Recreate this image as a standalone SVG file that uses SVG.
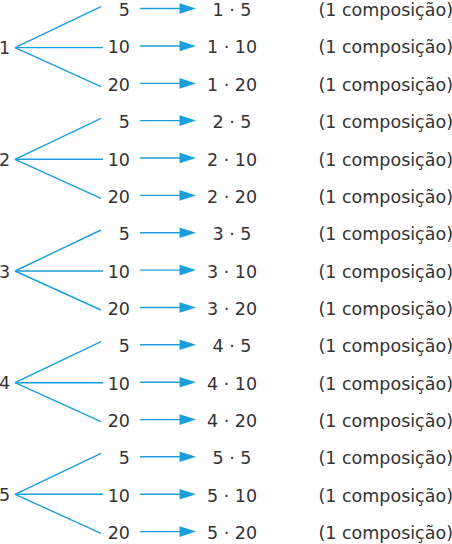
<svg xmlns="http://www.w3.org/2000/svg" width="452" height="544" viewBox="0 0 452 544">
<style>
text{font-family:"DejaVu Sans","Open Sans",sans-serif;font-size:17.5px;fill:#333}
.n{text-anchor:end}
.p{text-anchor:middle}
.c{text-anchor:end}
.ln{stroke:#1a9fdc;stroke-width:1.4;fill:none}
.ah{fill:#1a9fdc}
</style>
<defs>
<g id="arr"><line class="ln" x1="140" y1="0" x2="181" y2="0"/><polygon class="ah" points="179.5,-5.3 196,0 179.5,5.3"/></g>
<g id="tree"><line class="ln" x1="15" y1="0" x2="101" y2="-41"/><line class="ln" x1="15" y1="0" x2="103" y2="0"/><line class="ln" x1="15" y1="0" x2="101" y2="39"/></g>
</defs>
<g id="connectors">
<use href="#tree" y="47.6"/>
<use href="#arr" y="8.5"/><use href="#arr" y="46"/><use href="#arr" y="83.4"/>
<use href="#tree" y="159.3"/>
<use href="#arr" y="120.6"/><use href="#arr" y="158"/><use href="#arr" y="195.4"/>
<use href="#tree" y="271"/>
<use href="#arr" y="232.7"/><use href="#arr" y="270.1"/><use href="#arr" y="307.5"/>
<use href="#tree" y="382.7"/>
<use href="#arr" y="344.8"/><use href="#arr" y="382.2"/><use href="#arr" y="419.6"/>
<use href="#tree" y="494.3"/>
<use href="#arr" y="456.8"/><use href="#arr" y="494.2"/><use href="#arr" y="531.6"/>
</g>
<g id="node1">
<text x="-1" y="54">1</text>
<text class="n" x="130" y="16">5</text><text class="n" x="130" y="53.4">10</text><text class="n" x="130" y="90.8">20</text>
<text class="p" x="232" y="16">1 · 5</text><text class="p" x="232" y="53.4">1 · 10</text><text class="p" x="232" y="90.8">1 · 20</text>
<text class="c" x="453" y="16">(1 composição)</text><text class="c" x="453" y="53.4">(1 composição)</text><text class="c" x="453" y="90.8">(1 composição)</text>
</g>
<g id="node2">
<text x="-1" y="166">2</text>
<text class="n" x="130" y="128.1">5</text><text class="n" x="130" y="165.5">10</text><text class="n" x="130" y="202.9">20</text>
<text class="p" x="232" y="128.1">2 · 5</text><text class="p" x="232" y="165.5">2 · 10</text><text class="p" x="232" y="202.9">2 · 20</text>
<text class="c" x="453" y="128.1">(1 composição)</text><text class="c" x="453" y="165.5">(1 composição)</text><text class="c" x="453" y="202.9">(1 composição)</text>
</g>
<g id="node3">
<text x="-1" y="277.7">3</text>
<text class="n" x="130" y="240.2">5</text><text class="n" x="130" y="277.6">10</text><text class="n" x="130" y="315">20</text>
<text class="p" x="232" y="240.2">3 · 5</text><text class="p" x="232" y="277.6">3 · 10</text><text class="p" x="232" y="315">3 · 20</text>
<text class="c" x="453" y="240.2">(1 composição)</text><text class="c" x="453" y="277.6">(1 composição)</text><text class="c" x="453" y="315">(1 composição)</text>
</g>
<g id="node4">
<text x="-1" y="389.4">4</text>
<text class="n" x="130" y="352.3">5</text><text class="n" x="130" y="389.7">10</text><text class="n" x="130" y="427.1">20</text>
<text class="p" x="232" y="352.3">4 · 5</text><text class="p" x="232" y="389.7">4 · 10</text><text class="p" x="232" y="427.1">4 · 20</text>
<text class="c" x="453" y="352.3">(1 composição)</text><text class="c" x="453" y="389.7">(1 composição)</text><text class="c" x="453" y="427.1">(1 composição)</text>
</g>
<g id="node5">
<text x="-1" y="501">5</text>
<text class="n" x="130" y="464.3">5</text><text class="n" x="130" y="501.7">10</text><text class="n" x="130" y="539.1">20</text>
<text class="p" x="232" y="464.3">5 · 5</text><text class="p" x="232" y="501.7">5 · 10</text><text class="p" x="232" y="539.1">5 · 20</text>
<text class="c" x="453" y="464.3">(1 composição)</text><text class="c" x="453" y="501.7">(1 composição)</text><text class="c" x="453" y="539.1">(1 composição)</text>
</g>
</svg>
